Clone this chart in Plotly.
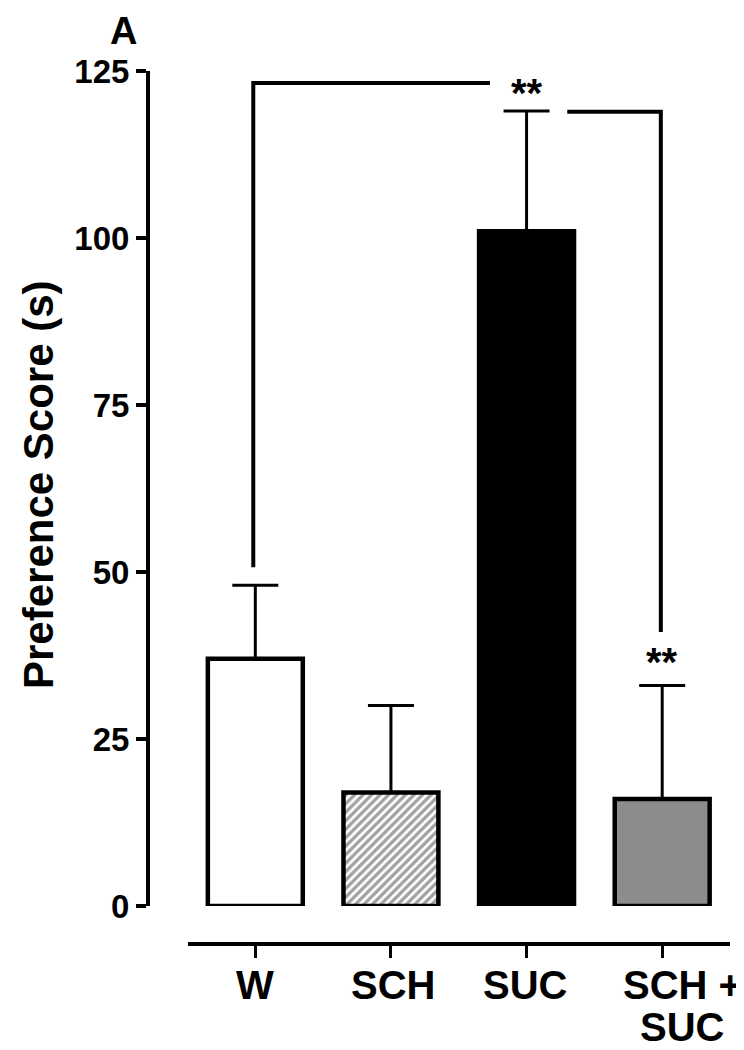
import plotly.graph_objects as go

categories = ["W", "SCH", "SUC", "SCH + SUC"]
label_lines = [["W"], ["SCH"], ["SUC"], ["SCH +", "SUC"]]
means = [37, 17, 101, 16]
sem_up = [11, 13, 18, 17]
fill_colors = ["white", "white", "black", "#8c8c8c"]
patterns = ["", "/", "", ""]
y_ticks = [0, 25, 50, 75, 100, 125]

FONT = "Liberation Sans, Arial, sans-serif"

# the page body adds an 8px margin; compensate so screen coords match
OFF = 8
W, H = 744 - OFF, 1050 - OFF
L, R, T, B = 148 - OFF, 14, 71 - OFF, 106
ph = H - T - B
pw = W - L - R


def px_x(sx):
    return (sx - OFF - L) / pw


def px_y(sy):
    return (H - B - (sy - OFF)) / ph


x0_dom = px_x(187.5)
y0_dom = px_y(906)

fig = go.Figure()
fig.add_trace(go.Bar(
    x=list(range(len(categories))),
    y=means,
    marker=dict(
        color=fill_colors,
        line=dict(color="black", width=4.5),
        pattern=dict(shape=patterns, fgcolor="black", bgcolor="white",
                     size=6, solidity=0.55, fillmode="overlay"),
    ),
    error_y=dict(type="data", symmetric=False, array=sem_up,
                 arrayminus=[0] * len(means), color="black",
                 thickness=3, width=23),
    width=0.7,
    showlegend=False,
))

fig.update_layout(
    template="none",
    width=W, height=H,
    margin=dict(l=L, r=R, t=T, b=B, pad=0, autoexpand=False),
    plot_bgcolor="white", paper_bgcolor="white",
    font=dict(family=FONT, color="black"),
    bargap=0.3,
    xaxis=dict(
        domain=[x0_dom, 1], anchor="free", position=0,
        range=[-0.5, 3.5], automargin=False,
        tickmode="array", tickvals=list(range(len(categories))),
        ticktext=[""] * len(categories),
        showline=True, linecolor="black", linewidth=4,
        ticks="outside", ticklen=12, tickwidth=3, tickcolor="black",
        showgrid=False, zeroline=False,
    ),
    yaxis=dict(
        domain=[y0_dom, 1], anchor="free", position=0,
        range=[0, 125], automargin=False,
        tickmode="array", tickvals=y_ticks, ticktext=[str(v) for v in y_ticks],
        showline=True, linecolor="black", linewidth=4,
        ticks="outside", ticklen=10, tickwidth=4, tickcolor="black",
        tickfont=dict(size=33, family=FONT, weight="bold"),
        showgrid=False, zeroline=False,
    ),
)

# x category labels (two-line label with tighter spacing than plotly's default)
label_x_px = [255, 393, 525, 682]
line_y_px = [985, 1027]
for i, lines in enumerate(label_lines):
    for j, txt in enumerate(lines):
        fig.add_annotation(x=px_x(label_x_px[i]), y=px_y(line_y_px[j]),
                           xref="paper", yref="paper", text=f"<b>{txt}</b>",
                           showarrow=False, font=dict(size=40, family=FONT),
                           xanchor="center", yanchor="middle")

# significance brackets
bracket = dict(color="black", width=4)
fig.add_shape(type="path", xref="x", yref="y",
              path="M -0.015,50.7 L -0.015,123.2 L 1.73,123.2",
              line=bracket)
fig.add_shape(type="path", xref="x", yref="y",
              path="M 2.3,118.9 L 2.99,118.9 L 2.99,41.0",
              line=bracket)

fig.add_annotation(x=2, y=121.7, xref="x", yref="y", text="<b>**</b>",
                   showarrow=False, font=dict(size=40, family=FONT), yanchor="middle")
fig.add_annotation(x=3, y=36.5, xref="x", yref="y", text="<b>**</b>",
                   showarrow=False, font=dict(size=40, family=FONT), yanchor="middle")

# y-axis title
fig.add_annotation(x=px_x(38), y=px_y(485), xref="paper", yref="paper",
                   text="<b>Preference Score (s)</b>", textangle=-90,
                   showarrow=False, font=dict(size=42, family=FONT),
                   xanchor="center", yanchor="middle")

# panel label
fig.add_annotation(x=px_x(123), y=px_y(9), xref="paper", yref="paper",
                   text="<b>A</b>", showarrow=False, font=dict(size=38, family=FONT),
                   xanchor="center", yanchor="top", borderpad=0)

fig.write_html("out.html")
